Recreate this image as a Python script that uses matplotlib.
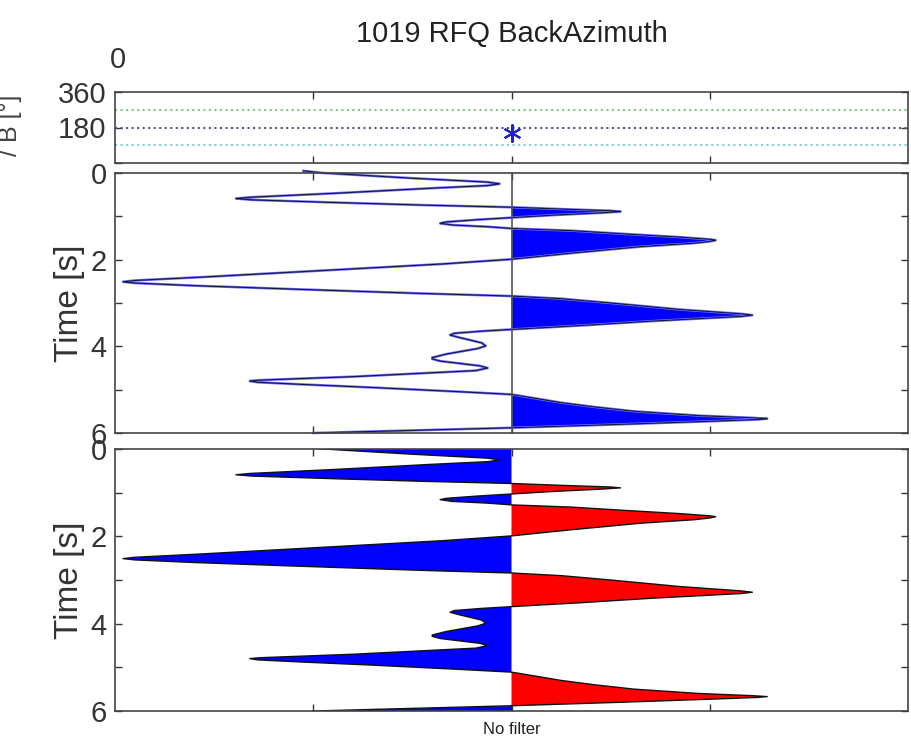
import numpy as np
import matplotlib
matplotlib.use('Agg')
import matplotlib.pyplot as plt
from matplotlib.ticker import MultipleLocator

plt.rcParams['font.family'] = ['Liberation Sans', 'DejaVu Sans']

title = '1019 RFQ BackAzimuth'
baz_lines = [270, 180, 90]
baz_colors = ['#7fc97f', '#55557f', '#80d0d8']
baz_point = (0.0, 150)

# trace: time [s] and amplitude
t = [-0.05, 0.00, 0.12, 0.21, 0.25, 0.29, 0.35, 0.47, 0.56, 0.59, 0.62, 0.68, 0.74, 0.79,
     0.84, 0.87, 0.89, 0.92, 0.97, 1.03, 1.08, 1.13, 1.16, 1.20, 1.24, 1.28,
     1.33, 1.40, 1.48, 1.53, 1.55, 1.58, 1.62, 1.70, 1.85, 1.99,
     2.10, 2.25, 2.40, 2.48, 2.51, 2.54, 2.60, 2.68, 2.78, 2.84,
     2.90, 3.00, 3.15, 3.25, 3.28, 3.31, 3.36, 3.42, 3.52, 3.61,
     3.65, 3.70, 3.74, 3.80, 3.92, 3.99, 4.05, 4.18, 4.26, 4.29, 4.34, 4.45, 4.50, 4.56,
     4.70, 4.78, 4.80, 4.83, 4.88, 4.95, 5.05, 5.11,
     5.20, 5.30, 5.40, 5.50, 5.60, 5.65, 5.67, 5.69, 5.73, 5.80, 5.88, 6.00]
amp = [-1.05, -0.95, -0.50, -0.12, -0.06, -0.12, -0.40, -0.90, -1.32, -1.39, -1.31, -0.90, -0.45, 0.00,
       0.30, 0.50, 0.55, 0.45, 0.22, 0.00, -0.18, -0.33, -0.36, -0.30, -0.12, 0.00,
       0.30, 0.55, 0.85, 1.00, 1.03, 1.00, 0.92, 0.65, 0.30, 0.00,
       -0.35, -0.95, -1.55, -1.90, -1.96, -1.90, -1.60, -1.10, -0.45, 0.00,
       0.25, 0.50, 0.85, 1.16, 1.215, 1.16, 0.95, 0.70, 0.35, 0.00,
       -0.15, -0.29, -0.31, -0.26, -0.15, -0.13, -0.17, -0.33, -0.40, -0.40, -0.36, -0.16, -0.12, -0.18,
       -0.80, -1.27, -1.32, -1.28, -1.05, -0.70, -0.25, 0.00,
       0.12, 0.25, 0.42, 0.62, 0.95, 1.22, 1.29, 1.24, 1.00, 0.55, 0.00, -1.00]
t = np.array(t)
amp = np.array(amp)

fig = plt.figure(figsize=(9.11, 7.40), dpi=100)
W, H = 911.0, 740.0
def box(l, top, r, bot):
    return [l / W, 1 - bot / H, (r - l) / W, (bot - top) / H]

ax0 = fig.add_axes(box(115, 92, 908, 163))
ax1 = fig.add_axes(box(115, 173, 908, 433))
ax2 = fig.add_axes(box(115, 449, 908, 711))

for ax in (ax0, ax1, ax2):
    ax.set_xlim(-2, 2)
    ax.set_xticks([-1, 0, 1])
    ax.set_xticklabels([])
    ax.tick_params(direction='in', top=True, right=True, length=5, width=1,
                   colors='#333333', labelsize=21, labelcolor='#333333', pad=6)
    ax.tick_params(which='minor', direction='in', right=True, length=5, width=1, colors='#333333')
    for s in ax.spines.values():
        s.set_color('#444444')
        s.set_linewidth(1.2)

# top panel: back azimuth
for y, c in zip(baz_lines, baz_colors):
    ax0.axhline(y, color=c, ls=':', lw=1.5)
ax0.plot(baz_point[0], baz_point[1], marker=(6, 2, 0), ms=13, color='#2020d0', mew=1.5)
ax0.set_ylim(0, 360)
ax0.set_yticks([0, 180, 360])
ax0.set_yticklabels(['', '180', '360'])
ax0.set_title(title, fontsize=21, color='#222222', pad=36)
fig.text(118 / W, 1 - 60 / H, '0', fontsize=21, color='#333333', ha='center', va='center')
fig.text(-2 / W, 1 - 125 / H, '/ B [°]', fontsize=18, color='#444444', rotation=90,
         ha='left', va='center')

# middle panel: wiggle with positive fill
ax1.fill_betweenx(t, 0, amp, where=amp > 0, interpolate=True, color='#0000ff', lw=0)
ax1.plot(amp, t, color='#6a6aff', lw=1.8, clip_on=False)
ax1.plot(amp, t, color='#101030', lw=0.7, clip_on=False)
ax1.axvline(0, color='#555555', lw=1.2)

# bottom panel: blue negative, red positive
ax2.fill_betweenx(t, 0, amp, where=amp < 0, interpolate=True, color='#0000ff', lw=0)
ax2.fill_betweenx(t, 0, amp, where=amp > 0, interpolate=True, color='#ff0000', lw=0)
ax2.plot(amp, t, color='#111111', lw=1.0)
ax2.set_xlabel('No filter', fontsize=12, color='#222222', labelpad=2)

for ax in (ax1, ax2):
    ax.set_ylim(6, 0)
    ax.yaxis.set_major_locator(MultipleLocator(2))
    ax.yaxis.set_minor_locator(MultipleLocator(1))
    ax.set_ylabel('Time [s]', fontsize=24, color='#333333', labelpad=4)

fig.savefig('out.png', dpi=100)
